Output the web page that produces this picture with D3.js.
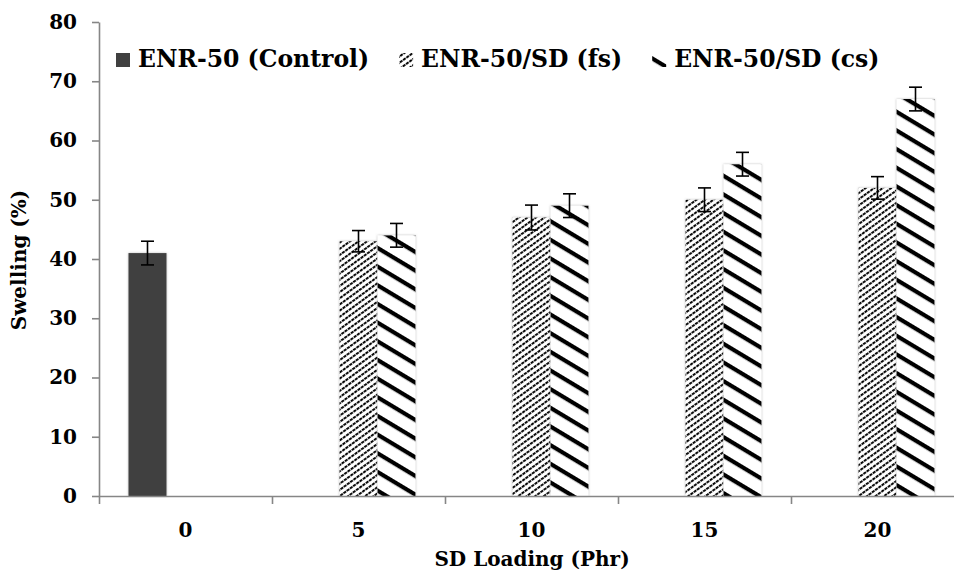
<!DOCTYPE html>
<html>
<head>
<meta charset="utf-8">
<script src="https://cdn.jsdelivr.net/npm/d3@7"></script>
<style>
  body { margin: 0; background: #fff; }
  text { font-family: "DejaVu Serif", serif; font-weight: bold; }
</style>
</head>
<body>
<script>
const categories = ["0", "5", "10", "15", "20"];
const series = ["ENR-50 (Control)", "ENR-50/SD (fs)", "ENR-50/SD (cs)"];
const control = [41, 0, 0, 0, 0];
const fs = [0, 43, 47, 50, 52];
const cs = [0, 44, 49, 56, 67];
const controlErr = [2, 0, 0, 0, 0];
const fsErr = [0, 1.8, 2.1, 2, 1.9];
const csErr = [0, 2, 2, 2, 2];
const yTicks = [0, 10, 20, 30, 40, 50, 60, 70, 80];

const width = 954;
const height = 571;
const left = 99;
const axisGray = "#868686";

const svg = d3.select("body")
    .append("svg")
    .attr("width", width)
    .attr("height", height);

const defs = svg.append("defs");

// fine up-right hatch (dotted looking)
const pFs = defs.append("pattern")
    .attr("id", "fs")
    .attr("patternUnits", "userSpaceOnUse")
    .attr("width", 4)
    .attr("height", 5)
    .attr("patternTransform", "rotate(-36)");
pFs.append("rect").attr("width", 4).attr("height", 5).attr("fill", "#fff");
pFs.append("rect").attr("y", 0).attr("width", 3.2).attr("height", 1.9).attr("fill", "#000");

// thick down-right stripes
const pCs = defs.append("pattern")
    .attr("id", "cs")
    .attr("patternUnits", "userSpaceOnUse")
    .attr("width", 10)
    .attr("height", 16)
    .attr("patternTransform", "rotate(31)");
pCs.append("rect").attr("width", 10).attr("height", 16).attr("fill", "#fff");
pCs.append("rect").attr("y", 0).attr("width", 10).attr("height", 4.2).attr("fill", "#000");

const shadow = defs.append("filter").attr("id", "shadow")
    .attr("x", "-20%").attr("y", "-5%").attr("width", "140%").attr("height", "110%");
shadow.append("feDropShadow")
    .attr("dx", 0).attr("dy", 0)
    .attr("stdDeviation", 1.2)
    .attr("flood-color", "#888")
    .attr("flood-opacity", 0.6);

const fills = ["#404040", "url(#fs)", "url(#cs)"];
const values = [control, fs, cs];
const errs = [controlErr, fsErr, csErr];

const x0 = d3.scaleBand()
    .domain(categories)
    .range([left, left + 173 * 5])
    .padding(0);

const x1 = d3.scaleBand()
    .domain(series)
    .range([0, x0.bandwidth()])
    .paddingInner(0)
    .paddingOuter(0.776);

const y = d3.scaleLinear()
    .domain([0, 80])
    .range([496, 22]);

const rows = [];
series.forEach((s, si) => {
    categories.forEach((c, ci) => {
        if (values[si][ci] > 0) {
            rows.push({ s: s, si: si, c: c, v: values[si][ci], e: errs[si][ci] });
        }
    });
});

svg.append("g")
    .selectAll("rect")
    .data(rows)
    .enter()
    .append("rect")
    .attr("x", d => x0(d.c) + x1(d.s))
    .attr("y", d => y(d.v))
    .attr("width", x1.bandwidth())
    .attr("height", d => y(0) - y(d.v))
    .attr("fill", d => fills[d.si])
    .attr("filter", "url(#shadow)");

// error bars
const eb = svg.append("g")
    .attr("stroke", "#000")
    .attr("stroke-width", 1.6)
    .selectAll("g")
    .data(rows)
    .enter()
    .append("g")
    .attr("transform", d => "translate(" + (x0(d.c) + x1(d.s) + x1.bandwidth() / 2) + ",0)");

eb.append("line")
    .attr("y1", d => y(d.v + d.e))
    .attr("y2", d => y(d.v - d.e));
eb.append("line")
    .attr("x1", -6.5).attr("x2", 6.5)
    .attr("y1", d => y(d.v + d.e))
    .attr("y2", d => y(d.v + d.e));
eb.append("line")
    .attr("x1", -6.5).attr("x2", 6.5)
    .attr("y1", d => y(d.v - d.e))
    .attr("y2", d => y(d.v - d.e));

// y axis
const yAxis = svg.append("g")
    .attr("transform", "translate(" + left + ",0)")
    .call(d3.axisLeft(y).tickValues(yTicks).tickSize(7).tickSizeOuter(0).tickPadding(15));

// x axis boundary ticks
const xb = d3.scaleLinear().domain([0, categories.length]).range(x0.range());
const xAxisTicks = svg.append("g")
    .attr("transform", "translate(0," + y(0) + ")")
    .call(d3.axisBottom(xb).tickValues(d3.range(categories.length + 1)).tickSize(8).tickSizeOuter(0).tickFormat(""));

const xAxis = svg.append("g")
    .attr("transform", "translate(0," + y(0) + ")")
    .call(d3.axisBottom(x0).tickSize(0).tickPadding(27));
xAxis.select(".domain").remove();

[yAxis, xAxisTicks].forEach(g => {
    g.selectAll(".domain, line").attr("stroke", axisGray).attr("stroke-width", 1.6);
});
[yAxis, xAxis].forEach(g => {
    g.selectAll("text")
        .attr("font-family", "DejaVu Serif")
        .attr("font-weight", "bold")
        .attr("font-size", 20)
        .attr("fill", "#000");
});

// axis titles
svg.append("text")
    .attr("transform", "translate(26,260) rotate(-90)")
    .attr("text-anchor", "middle")
    .attr("font-size", 20)
    .text("Swelling (%)");

svg.append("text")
    .attr("x", 532)
    .attr("y", 566)
    .attr("text-anchor", "middle")
    .attr("font-size", 20)
    .text("SD Loading (Phr)");

// legend
const legend = svg.append("g").attr("id", "legend");
let lx = 116;
series.forEach((s, i) => {
    const item = legend.append("g").attr("transform", "translate(" + lx + ",0)");
    item.append("rect")
        .attr("x", 0).attr("y", 53)
        .attr("width", 14).attr("height", 14)
        .attr("fill", fills[i]);
    const t = item.append("text")
        .attr("x", 22)
        .attr("y", 67)
        .attr("font-size", 23.5)
        .text(s);
    lx += 22 + t.node().getComputedTextLength() + 30;
});
</script>
</body>
</html>
